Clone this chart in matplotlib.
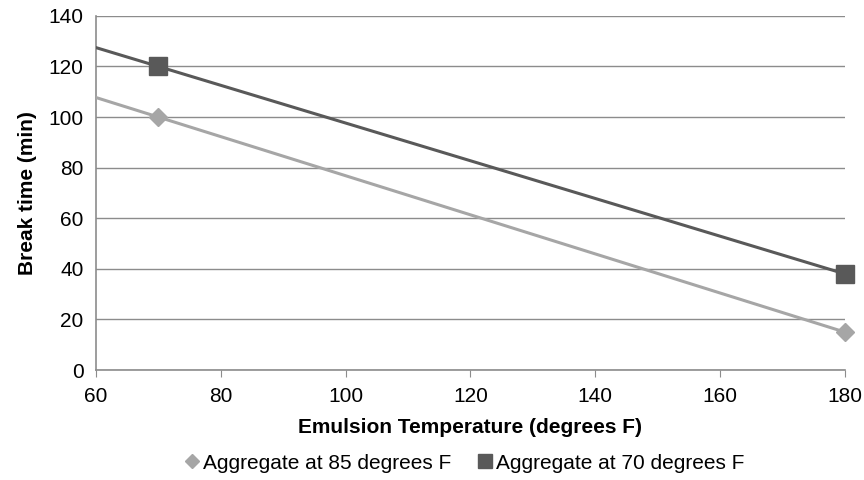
import numpy as np
import matplotlib.pyplot as plt

plt.rcParams['font.family'] = ['Liberation Sans', 'DejaVu Sans']

# data
temps = [70, 180]
agg_85 = [100, 15]
agg_70 = [120, 38]
x_ticks = [60, 80, 100, 120, 140, 160, 180]
y_ticks = [0, 20, 40, 60, 80, 100, 120, 140]

light = '#a6a6a6'
dark = '#595959'

fig = plt.figure(figsize=(8.64, 4.8), dpi=100)
ax = fig.add_axes([0.111, 0.229, 0.867, 0.738])

# linear trendlines across the full axis range
xs = np.array([60, 180])
for ys, col in ((agg_85, light), (agg_70, dark)):
    k, b = np.polyfit(temps, ys, 1)
    ax.plot(xs, k * xs + b, color=col, lw=2.2, zorder=3)

ax.plot(temps, agg_85, ls='none', marker='D', ms=9, color=light,
        label='Aggregate at 85 degrees F', zorder=4, clip_on=False)
ax.plot(temps, agg_70, ls='none', marker='s', ms=13, color=dark,
        label='Aggregate at 70 degrees F', zorder=4, clip_on=False)

ax.set_xlim(60, 180)
ax.set_ylim(0, 140)
ax.set_xticks(x_ticks)
ax.set_yticks(y_ticks)
ax.grid(axis='y', color='#8c8c8c', lw=1)
ax.set_axisbelow(True)
for s in ('top', 'right'):
    ax.spines[s].set_visible(False)
ax.spines['left'].set_color('#8c8c8c')
ax.spines['bottom'].set_color('#8c8c8c')
ax.spines['left'].set_linewidth(1.2)
ax.spines['bottom'].set_linewidth(1.2)
ax.tick_params(axis='y', length=0, labelsize=15, pad=9)
ax.tick_params(axis='x', length=5, color='#8c8c8c', labelsize=15, pad=7)

ax.set_xlabel('Emulsion Temperature (degrees F)', fontsize=15, fontweight='bold', labelpad=9)
ax.set_ylabel('Break time (min)', fontsize=15, fontweight='bold', labelpad=8)

leg = fig.legend(loc='center', bbox_to_anchor=(0.536, 0.035), ncol=2, frameon=False,
                 fontsize=15, handletextpad=0.05, columnspacing=1.1, markerscale=0.8,
                 handlelength=1.0)

fig.savefig('out.png', dpi=100)
